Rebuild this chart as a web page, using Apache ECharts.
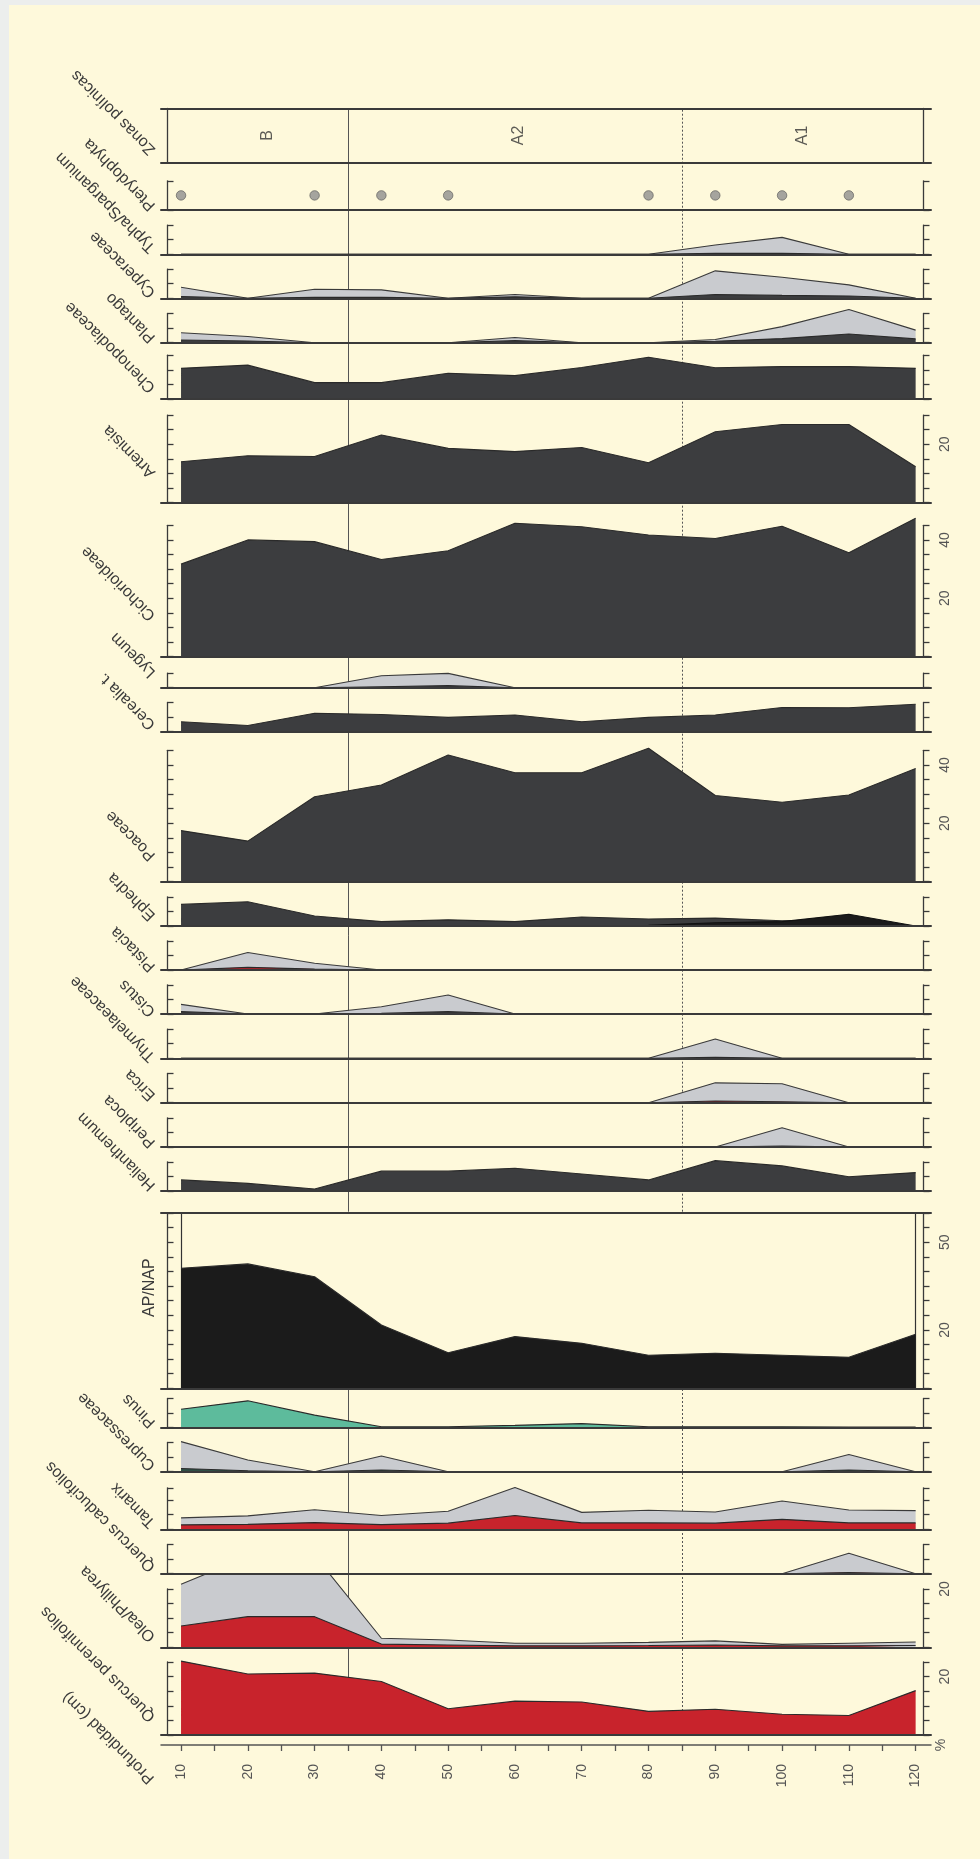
<!DOCTYPE html>
<html><head><meta charset="utf-8">
<script src="https://cdn.jsdelivr.net/npm/echarts@6/dist/echarts.min.js"></script>
<style>
html,body{margin:0;padding:0;background:#eceeed;}
#c{position:absolute;left:9px;top:5px;width:971px;height:1854px;}
</style></head><body><div id="c"></div>
<script>
// ---------------- DATA ----------------
const depths = [10, 20, 30, 40, 50, 60, 70, 80, 90, 100, 110, 120];
const depthTicks = [10,15,20,25,30,35,40,45,50,55,60,65,70,75,80,85,90,95,100,105,110,115,120];
const depthLabels = [10,20,30,40,50,60,70,80,90,100,110,120];

const quercusPerennifolios = [25.3, 20.9, 21.2, 18.3, 9.0, 11.6, 11.3, 8.1, 8.8, 7.1, 6.7, 15.2];
const oleaPhillyrea        = [7.3, 10.5, 10.5, 1.1, 0.8, 0.5, 0.5, 0.6, 0.8, 0.5, 0.5, 0.6];
const oleaPhillyreaExag    = [21.6, 31.0, 31.5, 3.1, 2.5, 1.4, 1.4, 1.7, 2.2, 1.0, 1.4, 1.8];
const quercusCaducifolios  = [0, 0, 0, 0, 0, 0, 0, 0, 0, 0, 0.4, 0];
const quercusCaducifoliosExag = [0, 0, 0, 0, 0, 0, 0, 0, 0, 0, 7.0, 0];
const tamarix              = [1.5, 1.7, 2.3, 1.6, 2.1, 4.7, 2.2, 2.2, 2.1, 3.4, 2.2, 2.2];
const tamarixExag          = [3.9, 4.6, 6.7, 4.7, 6.2, 14.3, 5.8, 6.5, 5.9, 9.7, 6.6, 6.4];
const cupressaceae         = [1.1, 0.3, 0, 0.6, 0, 0, 0, 0, 0, 0, 0.6, 0];
const cupressaceaeExag     = [10.3, 4.0, 0, 5.4, 0, 0, 0, 0, 0, 0, 5.9, 0];
const pinus                = [6.3, 9.2, 4.3, 0.3, 0.3, 0.8, 1.4, 0.3, 0.3, 0.3, 0.2, 0.2];
const apNap                = [41.1, 42.6, 38.2, 21.7, 12.2, 17.7, 15.4, 11.3, 12.0, 11.3, 10.6, 18.5];
const helianthemum         = [3.8, 2.6, 0.7, 6.8, 6.8, 7.8, 5.8, 3.8, 10.4, 8.6, 4.9, 6.3];
const periploca            = [0, 0, 0, 0, 0, 0, 0, 0, 0, 0.3, 0, 0];
const periplocaExag        = [0, 0, 0, 0, 0, 0, 0, 0, 0, 6.6, 0, 0];
const erica                = [0, 0, 0, 0, 0, 0, 0, 0, 0.6, 0.3, 0, 0];
const ericaExag            = [0, 0, 0, 0, 0, 0, 0, 0, 6.8, 6.5, 0, 0];
const thymelaeaceae        = [0, 0, 0, 0, 0, 0, 0, 0, 0.3, 0, 0, 0];
const thymelaeaceaeExag    = [0, 0, 0, 0, 0, 0, 0, 0, 6.6, 0, 0, 0];
const cistus               = [0.8, 0, 0, 0.2, 0.8, 0, 0, 0, 0, 0, 0, 0];
const cistusExag           = [3.3, 0, 0, 2.5, 6.5, 0, 0, 0, 0, 0, 0, 0];
const pistacia             = [0, 0.9, 0.3, 0, 0, 0, 0, 0, 0, 0, 0, 0];
const pistaciaExag         = [0, 6.0, 2.3, 0, 0, 0, 0, 0, 0, 0, 0, 0];
const ephedra              = [7.4, 8.3, 3.4, 1.5, 2.1, 1.5, 3.1, 2.4, 2.7, 1.8, 2.0, 0];
const ephedraFragilis      = [0, 0, 0, 0, 0, 0, 0, 0.2, 1.1, 1.5, 4.0, 0];
const poaceae              = [17.5, 13.9, 29.1, 33.1, 43.4, 37.3, 37.3, 45.7, 29.5, 27.2, 29.7, 38.8];
const cerealia             = [3.4, 2.1, 6.3, 5.9, 4.9, 5.7, 3.4, 4.9, 5.7, 8.3, 8.2, 9.4];
const lygeum               = [0, 0, 0, 0.3, 0.7, 0, 0, 0, 0, 0, 0, 0];
const lygeumExag           = [0, 0, 0, 4.1, 4.9, 0, 0, 0, 0, 0, 0, 0];
const cichorioideae        = [31.7, 40.0, 39.4, 33.3, 36.3, 45.7, 44.5, 41.7, 40.5, 44.7, 35.6, 47.4];
const artemisia            = [14.0, 16.1, 15.8, 23.2, 18.6, 17.5, 18.9, 13.7, 24.3, 26.8, 26.8, 12.3];
const chenopodiaceae       = [10.5, 11.6, 5.6, 5.6, 8.8, 8.0, 10.8, 14.3, 10.7, 11.1, 11.1, 10.5];
const plantago             = [0.9, 0.6, 0, 0, 0, 0.7, 0, 0, 0.5, 1.4, 3.0, 1.3];
const plantagoExag         = [3.4, 2.1, 0, 0, 0, 1.8, 0, 0, 1.1, 5.5, 11.4, 4.3];
const cyperaceae           = [0.6, 0, 0.3, 0.3, 0, 0.5, 0, 0, 1.3, 1.0, 0.8, 0];
const cyperaceaeExag       = [3.8, 0, 3.1, 2.9, 0, 1.3, 0, 0, 9.4, 7.2, 4.6, 0];
const typha                = [0, 0, 0, 0, 0, 0, 0, 0, 0.3, 0.3, 0, 0];
const typhaExag            = [0, 0, 0, 0, 0, 0, 0, 0, 3.2, 5.8, 0, 0];
const pterydophytaDepths   = [10, 30, 40, 50, 80, 90, 100, 110];
const pterydophytaValue    = 5;
const zoneBoundaries       = [35, 85];
const zoneNames            = ['B', 'A2', 'A1'];
const zoneLabelDepths      = [23, 60.5, 103];

// ---------------- STYLE / LAYOUT ----------------
const RED = '#c8232c', DARK = '#3c3d3f', GREY = '#c9cbcf', GREEN = '#5dbb9c', BLACK = '#1b1b1b', DGREEN = '#2f4f45';
const OX = 9, OY = 5;
const L = { left: 161, right: 931, brL: 167.5, brR: 923.5, k: 2.92, xMin: 7, xMax: 122.3, labelX: 153 };
const FONT = '"Liberation Sans", Arial, sans-serif';

const panels = [
  {label:'Quercus perennifolios', base:1735,   max:25,   ly:1716, main:quercusPerennifolios, color:RED, rl:[20]},
  {label:'Olea/Phillyrea',        base:1647.3, max:20,   ly:1636, main:oleaPhillyrea, exag:oleaPhillyreaExag, color:RED, rl:[20]},
  {label:'Quercus caducifolios',  base:1573.7, max:10,   ly:1566, main:quercusCaducifolios, exag:quercusCaducifoliosExag, color:RED},
  {label:'Tamarix',               base:1529.3, max:14.2, ly:1522, main:tamarix, exag:tamarixExag, color:RED},
  {label:'Cupressaceae',          base:1471.7, max:10,   ly:1465, main:cupressaceae, exag:cupressaceaeExag, color:DGREEN},
  {label:'Pinus',                 base:1427.7, max:10,   ly:1422, main:pinus, color:GREEN},
  {label:'AP/NAP',                base:1388.3, max:60,   box:true, main:apNap, color:BLACK, rl:[20,50]},
  {label:'Helianthemum',          base:1191,   max:10,   ly:1185, main:helianthemum, color:DARK},
  {label:'Periploca',             base:1147,   max:10,   ly:1142, main:periploca, exag:periplocaExag, color:DARK},
  {label:'Erica',                 base:1102.7, max:10,   ly:1095, main:erica, exag:ericaExag, color:RED},
  {label:'Thymelaeaceae',         base:1058.3, max:10,   ly:1056, main:thymelaeaceae, exag:thymelaeaceaeExag, color:DARK},
  {label:'Cistus',                base:1014,   max:10,   ly:1011, main:cistus, exag:cistusExag, color:DARK},
  {label:'Pistacia',              base:970,    max:10,   ly:966,  main:pistacia, exag:pistaciaExag, color:RED},
  {label:'Ephedra',               base:926,    max:10,   ly:915,  main:ephedra, inner:ephedraFragilis, color:DARK},
  {label:'Poaceae',               base:881.7,  max:45,   ly:855,  main:poaceae, color:DARK, rl:[20,40]},
  {label:'Cerealia t.',           base:731.7,  max:10,   ly:724,  main:cerealia, color:DARK},
  {label:'Lygeum',                base:687.7,  max:5,    ly:672,  main:lygeum, exag:lygeumExag, color:DARK},
  {label:'Cichorioideae',         base:656.7,  max:45,   ly:615,  main:cichorioideae, color:DARK, rl:[20,40]},
  {label:'Artemisia',             base:502.7,  max:30,   ly:472,  main:artemisia, color:DARK, rl:[20]},
  {label:'Chenopodiaceae',        base:399,    max:15,   ly:387,  main:chenopodiaceae, color:DARK},
  {label:'Plantago',              base:342.7,  max:10,   ly:337,  main:plantago, exag:plantagoExag, color:DARK},
  {label:'Cyperaceae',            base:298.3,  max:10,   ly:292,  main:cyperaceae, exag:cyperaceaeExag, color:DARK},
  {label:'Typha/Sparganium',      base:254.3,  max:10,   ly:247,  main:typha, exag:typhaExag, color:DARK},
  {label:'Pterydophyta',          base:210,    max:10,   ly:205,  dots:true, interval:10},
];
const zoneBox = { top:108.3, bottom:162.7, ly:149, label:'Zonas polínicas' };
const apTop = 1211.7;

// ---------------- BUILD ----------------
const grids = [], xAxes = [], yAxes = [], series = [], graphics = [];
function addGrid(top, bottom) {
  grids.push({left: L.left - OX, top: top - OY, width: L.right - L.left, height: bottom - top});
  return grids.length - 1;
}
function hiddenX(g) { xAxes.push({gridIndex:g, type:'value', min:L.xMin, max:L.xMax, show:false}); return xAxes.length - 1; }
function hiddenY(g, max) { yAxes.push({gridIndex:g, type:'value', min:0, max:max, show:false}); return yAxes.length - 1; }
const axisCol = '#3a3a3a';
function baseX(g, pos) {
  xAxes.push({gridIndex:g, type:'value', min:L.xMin, max:L.xMax, position:pos || 'bottom', z:6,
    axisLine:{show:true, onZero:false, lineStyle:{color:axisCol, width:2}},
    axisTick:{show:false}, axisLabel:{show:false}, splitLine:{show:false}});
  return xAxes.length - 1;
}
function sideY(g, max, side, opts) {
  const o = opts || {};
  yAxes.push({gridIndex:g, type:'value', min:0, max:max, interval:o.interval || 5, position:side, z:6,
    offset: side === 'left' ? -(L.brL - L.left) : -(L.right - L.brR),
    axisLine:{show:true, onZero:false, lineStyle:{color:axisCol, width:1.3}},
    axisTick:{show:!o.noTick, inside: side === 'left', length:6, lineStyle:{color:axisCol, width:1.3}},
    splitLine:{show:false},
    axisLabel:{show: side === 'right' && !!o.rl, rotate:90, margin:15, color:'#555', fontSize:14, fontFamily:FONT,
      showMinLabel:true, showMaxLabel:true,
      formatter: v => (o.rl && o.rl.indexOf(Math.round(v*100)/100) >= 0) ? String(v) : ''}});
  return yAxes.length - 1;
}
const pair = vals => depths.map((d, i) => [d, vals[i]]);
function area(xi, yi, vals, fill, stroke, z) {
  return {type:'line', xAxisIndex:xi, yAxisIndex:yi, data:pair(vals), symbol:'none', silent:true,
    lineStyle:{color:stroke, width:1.1}, areaStyle:{color:fill, opacity:1}, z:z, animation:false};
}
function addLabel(text, x, y, rot, align) {
  graphics.push({type:'text', x:x - OX, y:y - OY, rotation:rot, silent:true,
    style:{text:text, fill:'#3a3a3a', font:'16px ' + FONT, align:align || 'left', verticalAlign:'middle'}});
}

panels.forEach((p, i) => {
  const top = p.base - p.max * L.k;
  const g = addGrid(top, p.base);
  const xi = baseX(g);
  if (p.box) baseX(g, 'top');
  const yl = sideY(g, p.max, 'left', {interval:p.interval});
  sideY(g, p.max, 'right', {interval:p.interval, rl:p.rl});
  // clipping slot: from this baseline up to the next panel's baseline
  const upper = (i + 1 < panels.length) ? panels[i + 1].base : zoneBox.bottom;
  let sx = xi, sy = yl;
  if (!p.box && !p.dots) {
    const sg = addGrid(upper, p.base);
    sx = hiddenX(sg); sy = hiddenY(sg, (p.base - upper) / L.k);
  }
  if (p.exag) series.push(area(sx, sy, p.exag, GREY, '#3a3a3a', 3));
  if (p.main) {
    const s = area(sx, sy, p.main, p.color, '#2a2a2a', 4);
    if (p.box) {
      s.markLine = {silent:true, symbol:['none','none'], z:4, label:{show:false}, animation:false,
        lineStyle:{color:'#333', width:1.2, type:'solid'}, data:[{xAxis:depths[0]}, {xAxis:depths[depths.length-1]}]};
    }
    series.push(s);
  }
  if (p.inner) series.push(area(sx, sy, p.inner, BLACK, '#111', 5));
  if (p.dots) {
    series.push({type:'scatter', xAxisIndex:xi, yAxisIndex:yl, symbolSize:9.5, silent:true, z:4, animation:false,
      itemStyle:{color:'#8e8e8e', borderColor:'#555', borderWidth:0.8},
      data:pterydophytaDepths.map(d => [d, pterydophytaValue])});
  }
  if (p.box) addLabel(p.label, 150, (top + p.base) / 2 - 13, Math.PI / 2, 'center');
  else addLabel(p.label, L.labelX, p.ly + 3, Math.PI * 3 / 4);
});

// zones box
{
  const g = addGrid(zoneBox.top, zoneBox.bottom);
  const xi = baseX(g); baseX(g, 'top');
  const yi = sideY(g, 1, 'left', {noTick:true, interval:1});
  sideY(g, 1, 'right', {noTick:true, interval:1});
  series.push({type:'scatter', xAxisIndex:xi, yAxisIndex:yi, symbolSize:0, silent:true, z:4, animation:false,
    data:zoneNames.map((n, i) => ({name:n, value:[zoneLabelDepths[i], 0.5]})),
    label:{show:true, position:'inside', formatter:'{b}', rotate:90, fontSize:16, fontFamily:FONT, color:'#333'}});
  addLabel(zoneBox.label, L.labelX, zoneBox.ly + 3, Math.PI * 3 / 4);
}

// zone boundary lines (behind the curves)
[[zoneBox.top, apTop], [panels[6].base, panels[0].base]].forEach(([t, b]) => {
  const g = addGrid(t, b);
  const xi = hiddenX(g), yi = hiddenY(g, 1);
  series.push({type:'line', xAxisIndex:xi, yAxisIndex:yi, data:zoneBoundaries.map(z => [z, 0]), symbol:'none',
    lineStyle:{opacity:0}, silent:true, z:1, animation:false,
    markLine:{silent:true, symbol:['none','none'], z:1, animation:false, label:{show:false},
      data:[{xAxis:zoneBoundaries[0], lineStyle:{color:'#555', width:1, type:'solid'}},
            {xAxis:zoneBoundaries[1], lineStyle:{color:'#555', width:1, type:[2,2]}}]}});
});

// depth axis
{
  const g = addGrid(1744, 1745);
  xAxes.push({gridIndex:g, type:'value', min:L.xMin, max:L.xMax, position:'bottom',
    name:'%', nameLocation:'end', nameGap:10, nameRotate:90,
    nameTextStyle:{color:'#555', fontSize:14, fontFamily:FONT, verticalAlign:'middle'},
    axisLine:{show:true, onZero:false, lineStyle:{color:'#555', width:1.5}},
    axisTick:{show:true, length:6, customValues:depthTicks, lineStyle:{color:'#555', width:1.3}},
    axisLabel:{show:true, customValues:depthLabels, rotate:90, margin:19, color:'#555', fontSize:14, fontFamily:FONT},
    splitLine:{show:false}});
  hiddenY(g, 1);
  addLabel('Profundidad (cm)', 152, 1781, Math.PI * 3 / 4);
}

const chart = echarts.init(document.getElementById('c'), null, {renderer:'canvas'});
chart.setOption({
  backgroundColor:'#fef9db', animation:false,
  grid:grids, xAxis:xAxes, yAxis:yAxes, series:series, graphic:graphics
});
</script></body></html>
